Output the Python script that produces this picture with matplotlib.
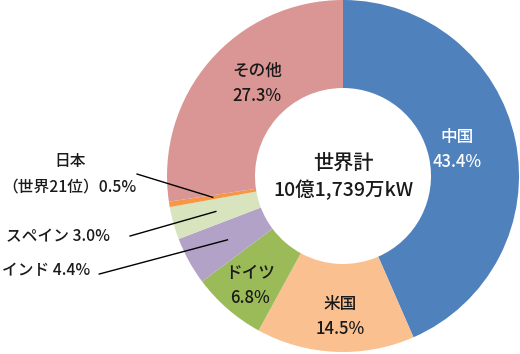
import numpy as np
import matplotlib
matplotlib.use("Agg")
import matplotlib.pyplot as plt

plt.rcParams['font.family'] = ['Noto Sans CJK JP', 'DejaVu Sans']

# share of world wind power capacity (%)
countries = ["中国", "米国", "ドイツ", "インド", "スペイン", "日本", "その他"]
shares = [43.4, 14.5, 6.8, 4.4, 3.0, 0.5, 27.3]
colors = ["#4F81BD", "#FAC090", "#9BBB59", "#B3A2C7", "#D7E4BD", "#F79646", "#D99694"]
total_label = "10億1,739万kW"

fig = plt.figure(figsize=(5.2, 3.54), dpi=100)
# pie spans px x 167..519, y 0..352
ax = fig.add_axes([167 / 520, 2 / 354, 352 / 520, 352 / 354])
wedges, _ = ax.pie(shares, colors=colors, startangle=90, counterclock=False,
                   radius=1.0, wedgeprops=dict(width=0.5, linewidth=0))
ax.set_xlim(-1, 1)
ax.set_ylim(-1, 1)
ax.set_aspect('equal')
ax.axis('off')

fs = 12
fs_out = 11.3
fw = 'medium'
txt = "#1a1a1a"

# labels inside the ring
inside = {
    "中国": (0.648, 0.148, "white"),
    "米国": (-0.017, -0.80, txt),
    "ドイツ": (-0.528, -0.62, txt),
    "その他": (-0.489, 0.528, txt),
}
for name, share in zip(countries, shares):
    if name in inside:
        x, y, c = inside[name]
        ax.text(x, y, f"{name}\n{share}%", ha='center', va='center', fontsize=fs,
                color=c, linespacing=1.5, fontweight=fw)

# center text
ax.text(0, 0.074, "世界計", ha='center', va='center', fontsize=14.5, color=txt, fontweight=fw)
ax.text(0, -0.08, total_label, ha='center', va='center', fontsize=14, color=txt, fontweight=fw)


def mid_point(i, r=0.75):
    w = wedges[i]
    a = np.deg2rad((w.theta1 + w.theta2) / 2)
    return r * np.cos(a), r * np.sin(a)


left_x = -1.935  # about 2 px from the left edge

# outside labels with leader lines
jp = countries.index("日本")
ax.text(-1.551, 0.08, "日本", ha='center', va='center', fontsize=fs_out, color=txt,
        clip_on=False, fontweight=fw)
ax.text(left_x, -0.0625, f"（世界21位）{shares[jp]}%", ha='left', va='center',
        fontsize=fs_out, color=txt, clip_on=False, fontweight=fw)
mx, my = mid_point(jp)
ax.plot([-1.17, mx], [0.011, my], color="black", lw=1, clip_on=False)

es = countries.index("スペイン")
ax.text(left_x + 0.02, -0.347, f"スペイン {shares[es]}%", ha='left', va='center',
        fontsize=fs_out, color=txt, clip_on=False, fontweight=fw)
mx, my = mid_point(es)
ax.plot([-1.21, mx], [-0.341, my], color="black", lw=1, clip_on=False)

ind = countries.index("インド")
ax.text(left_x, -0.54, f"インド {shares[ind]}%", ha='left', va='center',
        fontsize=fs_out, color=txt, clip_on=False, fontweight=fw)
mx, my = mid_point(ind)
ax.plot([-1.385, mx], [-0.557, my], color="black", lw=1, clip_on=False)

fig.savefig("out.png", dpi=100)
